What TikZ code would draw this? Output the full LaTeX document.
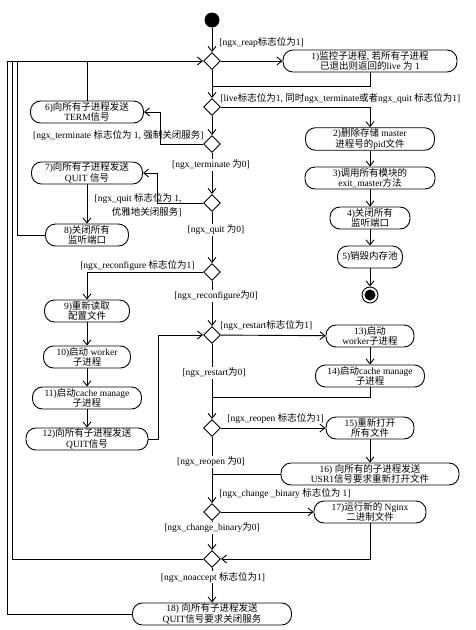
\documentclass[tikz,border=0pt]{standalone}
\usepackage{fontspec}
\setmainfont{Liberation Serif}
\newfontfamily\zhfont{Noto Sans CJK SC}
\usetikzlibrary{shapes.geometric,arrows.meta}

% Chinese runs switch to the CJK font
\XeTeXinterchartokenstate=1
\newXeTeXintercharclass\zhclass
\newcount\zhcount
\zhcount="4E00
\loop\ifnum\zhcount<"A000
  \XeTeXcharclass\zhcount=\zhclass
  \advance\zhcount by 1
\repeat
\XeTeXinterchartoks 0 \zhclass = {\begingroup\zhfont}
\XeTeXinterchartoks 4095 \zhclass = {\begingroup\zhfont}
\XeTeXinterchartoks \zhclass 0 = {\endgroup}
\XeTeXinterchartoks \zhclass 4095 = {\endgroup}

\begin{document}
\begin{tikzpicture}[x=1pt,y=-1pt,line width=0.9pt,
  font=\fontsize{9.5}{10.5}\selectfont,
  >={Straight Barb[length=5pt,width=8pt]},
  act/.style={draw,rounded corners=10pt,minimum height=22pt,align=center,inner sep=1pt},
  cond/.style={draw,diamond,minimum width=17pt,minimum height=17pt,inner sep=0pt},
  guard/.style={fill=white,inner sep=1pt},
  note/.style={inner sep=1pt}]
\useasboundingbox (0,0) rectangle (475,630);

\node[circle,fill=black,minimum size=15pt,inner sep=0pt] (start) at (212,20) {};

\node[cond] (d1) at (212,61) {};
\node[cond] (d2) at (212,107) {};
\node[cond] (d3) at (212,144) {};
\node[cond] (d4) at (212,203) {};
\node[cond] (d5) at (212,272) {};
\node[cond] (d6) at (212,335) {};
\node[cond] (d7) at (212,428) {};
\node[cond] (d8) at (212,512) {};
\node[cond] (d9) at (212,559) {};

% right column
\node[act,minimum width=174pt] (b1) at (370,61) {1)监控子进程, 若所有子进程\\已退出则返回的live 为 1};
\node[act,minimum width=129pt] (b2) at (370,139) {2)删除存储 master\\进程号的pid文件};
\node[act,minimum width=130pt] (b3) at (370,178) {3)调用所有模块的\\exit\_master方法};
\node[act,minimum width=80pt] (b4) at (370,218) {4)关闭所有\\监听端口};
\node[act,minimum width=65pt] (b5) at (370,257) {5)销毁内存池};
\node[circle,draw,minimum size=16pt,inner sep=0pt] (final) at (370,295) {};
\node[circle,fill=black,minimum size=11pt,inner sep=0pt] (finalin) at (370,295) {};

% left column
\node[act,minimum width=113pt] (b6) at (87,112) {6)向所有子进程发送\\TERM信号};
\node[act,minimum width=111pt] (b7) at (87,173) {7)向所有子进程发送\\QUIT 信号};
\node[act,minimum width=83pt] (b8) at (87,235) {8)关闭所有\\监听端口};
\node[act,minimum width=85pt] (b9) at (87,311) {9)重新读取\\配置文件};
\node[act,minimum width=87pt] (b10) at (87,357) {10)启动 worker\\子进程};
\node[act,minimum width=109pt] (b11) at (87,398) {11)启动cache manage\\子进程};
\node[act,minimum width=122pt] (b12) at (87,439) {12)向所有子进程发送\\QUIT信号};

% lower right
\node[act,minimum width=88pt] (b13) at (370,336) {13)启动\\worker子进程};
\node[act,minimum width=109pt] (b14) at (370,376) {14)启动cache manage\\子进程};
\node[act,minimum width=88pt] (b15) at (370,428) {15)重新打开\\所有文件};
\node[act,minimum width=178pt] (b16) at (370,474) {16) 向所有的子进程发送\\USR1信号要求重新打开文件};
\node[act,minimum width=112pt] (b17) at (370,512) {17)运行新的 Nginx\\二进制文件};
\node[act,minimum width=159pt] (b18) at (212,614) {18) 向所有子进程发送\\QUIT信号要求关闭服务};

\coordinate (loopA) at (7,61);
\coordinate (loopB) at (12,61);
\coordinate (loopC) at (17,61);
\coordinate (j1) at (212,86);
\coordinate (j2) at (212,397);
\coordinate (j3) at (212,474);

% main line
\draw[->] (start) -- (d1);
\draw[->] (d1) -- (d2);
\draw[->] (d2) -- (d3);
\draw[->] (d3) -- (d4);
\draw[->] (d4) -- (d5);
\draw[->] (d5) -- (d6);
\draw[->] (d6) -- (d7);
\draw[->] (d7) -- (d8);
\draw[->] (d8) -- (d9);
\draw[->] (d9) -- (b18);

\draw[->] (d1) -- (b1);
\draw (b1) |- (j1);
\draw[->] (d2) -| (b2);
\draw[->] (b2) -- (b3);
\draw[->] (b3) -- (b4);
\draw[->] (b4) -- (b5);
\draw[->] (b5) -- (final);

\draw[->] (d3) -| (160,112) -- (b6);
\draw (b6) -- (b6.north |- d1);
\draw[->] (d4) -| (157,173) -- (b7);
\draw[->] (b7) -- (b8);
\draw (b8) -| (loopC);

\draw[->] (d5) -| (b9);
\draw[->] (b9) -- (b10);
\draw[->] (b10) -- (b11);
\draw[->] (b11) -- (b12);
\draw[->] (b12) -| (158,335) -- (d6);

\draw[->] (d6) -- (b13);
\draw[->] (b13) -- (b14);
\draw (b14) |- (j2);
\draw[->] (d7) -- (b15);
\draw[->] (b15) -- (b16);
\draw (b16) -- (j3);
\draw[->] (d8) -- (b17);
\draw[->] (b17) |- (d9);

\draw (d9) -| (loopB);
\draw[->] (b18) -| (loopA) -- (d1);

% guards
\node[note,anchor=west] (l1) at (218,42) {[ngx\_reap标志位为1]};
\node[note,anchor=west] (l2) at (219,98) {[live标志位为1, 同时ngx\_terminate或者ngx\_quit 标志位为1]};
\node[note,anchor=east] (l3) at (205,135) {[ngx\_terminate 标志位为 1, 强制关闭服务]};
\node[guard] (l4) at (211,165) {[ngx\_terminate 为0]};
\node[note,anchor=east,align=right] (l5) at (183,205) {[ngx\_quit 标志位为 1,\\[4pt]优雅地关闭服务]};
\node[guard] (l6) at (216,230) {[ngx\_quit 为0]};
\node[note,anchor=east] (l7) at (196,265) {[ngx\_reconfigure 标志位为1]};
\node[guard] (l8) at (216,296) {[ngx\_reconfigure为0]};
\node[note,anchor=west] (l9) at (219,325) {[ngx\_restart标志位为1]};
\node[guard] (l10) at (214,373) {[ngx\_restart为0]};
\node[note,anchor=west] (l11) at (226,418) {[ngx\_reopen 标志位为1]};
\node[guard] (l12) at (211,462) {[ngx\_reopen 为0]};
\node[note,anchor=west] (l13) at (218,493) {[ngx\_change \_binary 标志位为 1]};
\node[guard] (l14) at (212,528) {[ngx\_change\_binary为0]};
\node[guard] (l15) at (213,577) {[ngx\_noaccept 标志位为1]};
\end{tikzpicture}
\end{document}
